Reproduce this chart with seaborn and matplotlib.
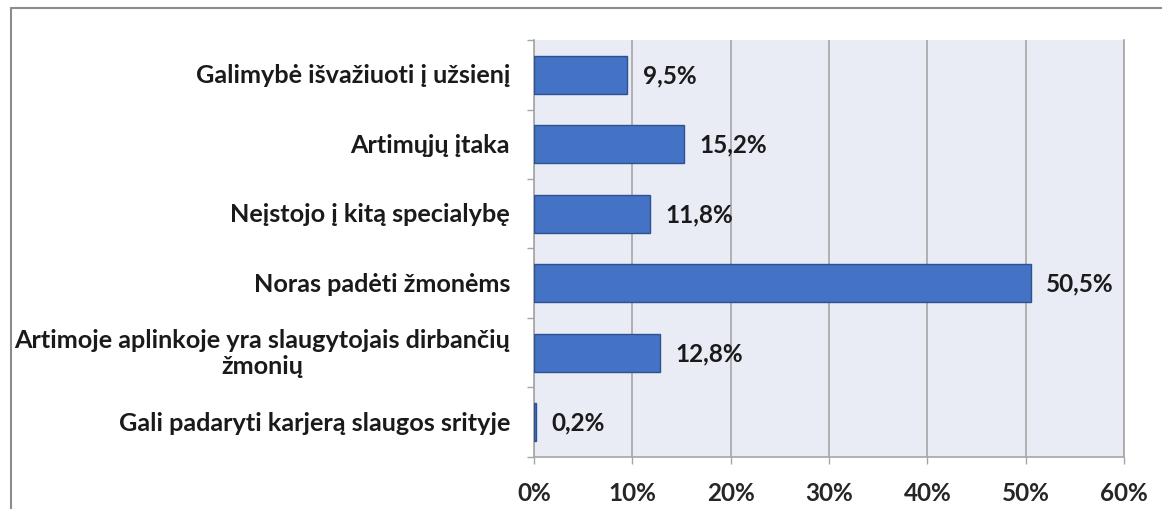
import matplotlib
matplotlib.use('Agg')
import matplotlib.pyplot as plt
import pandas as pd
import seaborn as sns
from matplotlib.lines import Line2D
from matplotlib.ticker import FuncFormatter

# 数据
categories = [
    'Galimybė išvažiuoti į užsienį',
    'Artimųjų įtaka',
    'Neįstojo į kitą specialybę',
    'Noras padėti žmonėms',
    'Artimoje aplinkoje yra slaugytojais dirbančių\nžmonių',
    'Gali padaryti karjerą slaugos srityje',
]
values = [9.5, 15.2, 11.8, 50.5, 12.8, 0.2]
xticks = [0, 10, 20, 30, 40, 50, 60]

sns.set_theme(style='white')
plt.rcParams['font.family'] = ['Lato', 'DejaVu Sans']
plt.rcParams['font.weight'] = 'bold'

FS_CAT = 18.2
FS_VAL = 17.5
df = pd.DataFrame({'cat': categories, 'val': values})

fig = plt.figure(figsize=(11.62, 5.10), dpi=100)
ax = fig.add_axes([0.4596, 0.102, 0.5077, 0.8176])
ax.set_facecolor('#E9EBF5')

sns.barplot(data=df, x='val', y='cat', ax=ax, color='#4472C4', orient='h',
            width=0.55, edgecolor='#2F528F', linewidth=1, saturation=1, zorder=3)

# 数值标签
for i, v in enumerate(values):
    ax.text(v + 1.6, i, f'{v:.1f}'.replace('.', ',') + '%', va='center', ha='left',
            fontsize=FS_VAL, fontweight='bold', color='#1a1a1a', zorder=4)

# 类别标签（多行居中对齐）
for i, c in enumerate(categories):
    ax.text(-24 / 590, i, c, transform=ax.get_yaxis_transform(), ha='right', va='center',
            multialignment='center', linespacing=1.15, fontsize=FS_CAT,
            fontweight='bold', color='#1a1a1a')

ax.set_xlim(0, 60)
ax.set_ylim(5.5, -0.5)
ax.set_xticks(xticks)
ax.xaxis.set_major_formatter(FuncFormatter(lambda x, _: f'{x:.0f}%'))
ax.set_yticks([i - 0.5 for i in range(7)])
ax.set_yticklabels([''] * 7)
ax.tick_params(axis='y', length=5, color='#A6A6A6', width=1, direction='out', left=True)
ax.tick_params(axis='x', length=5, color='#A6A6A6', width=1, direction='out', bottom=True,
               pad=12, labelsize=FS_VAL)
for lab in ax.get_xticklabels():
    lab.set_fontweight('bold')

ax.grid(axis='x', color='#A6A6A6', linewidth=1.2, zorder=0)
ax.grid(axis='y', visible=False)
ax.set_xlabel('')
ax.set_ylabel('')
ax.spines['top'].set_visible(False)
for s in ['left', 'bottom', 'right']:
    ax.spines[s].set_color('#A6A6A6')
    ax.spines[s].set_linewidth(1.2)

# 外框
fx = 11 / 1162
fy = 1 - 9 / 510
fig.add_artist(Line2D([fx, 1], [fy, fy], transform=fig.transFigure, color='#8C8C8C', linewidth=1.5))
fig.add_artist(Line2D([fx, fx], [0, fy], transform=fig.transFigure, color='#8C8C8C', linewidth=1.5))

fig.savefig('out.png', dpi=100)
